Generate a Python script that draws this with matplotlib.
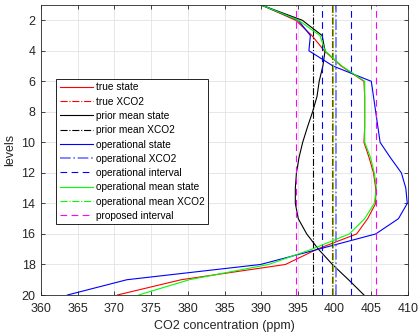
import numpy as np
import matplotlib
matplotlib.use("Agg")
import matplotlib.pyplot as plt

plt.rcParams['font.family'] = ['Liberation Sans', 'DejaVu Sans']

levels = np.arange(1, 21)

true_state = [390.0, 394.7, 396.9, 398.6, 400.9, 404.0, 404.1, 404.1, 404.1, 404.0,
              404.7, 405.3, 405.6, 405.6, 404.5, 403.0, 397.6, 393.3, 379.1, 370.4]
prior_state = [390.0, 395.6, 398.3, 398.7, 398.4, 397.9, 397.6, 397.0, 396.3, 395.65,
               395.15, 394.8, 394.65, 394.65, 395.05, 396.2, 397.8, 399.7, 401.9, 404.0]
op_state = [390.0, 395.05, 396.7, 396.5, 399.8, 405.0, 405.3, 405.6, 405.9, 406.2,
            407.6, 409.1, 409.7, 409.9, 408.7, 405.6, 397.8, 389.9, 371.7, 363.6]
op_mean_state = [390.0, 395.1, 398.0, 398.7, 401.0, 404.1, 404.1, 404.1, 404.1, 404.1,
                 404.9, 405.4, 405.7, 405.4, 404.1, 402.0, 396.9, 391.0, 380.2, 373.3]

true_xco2 = 399.6
prior_xco2 = 397.0
op_xco2 = 400.2
op_interval = [398.25, 402.2]
op_mean_xco2 = 399.75
proposed_interval = [394.7, 405.6]

fig = plt.figure(figsize=(4.2, 3.36), dpi=100)
ax = fig.add_axes([41 / 420, 1 - 295 / 336, 367 / 420, 290 / 336])

lw = 0.8
ax.plot(true_state, levels, color='r', lw=lw, label='true state')
ax.axvline(true_xco2, color='r', ls='-.', lw=lw, label='true XCO2')
ax.plot(prior_state, levels, color='k', lw=lw, label='prior mean state')
ax.axvline(prior_xco2, color='k', ls='-.', lw=lw, label='prior mean XCO2')
ax.plot(op_state, levels, color='b', lw=lw, label='operational state')
ax.axvline(op_xco2, color='#6f6fff', ls='-.', lw=1.2, label='operational XCO2')
for i, v in enumerate(op_interval):
    ax.axvline(v, color='b', ls=(0, (6, 4)), lw=lw,
               label='operational interval' if i == 0 else None)
ax.plot(op_mean_state, levels, color='#00ff00', lw=lw, label='operational mean state')
ax.axvline(op_mean_xco2, color='#00ff00', ls='-.', lw=lw, label='operational mean XCO2')
for i, v in enumerate(proposed_interval):
    ax.axvline(v, color='#ff00ff', ls=(0, (6, 4)), lw=lw,
               label='proposed interval' if i == 0 else None)

ax.set_xlim(360, 410)
ax.set_ylim(20, 1)
ax.set_xticks(np.arange(360, 411, 5))
ax.set_yticks(np.arange(2, 21, 2))
ax.grid(True, color='#e3e3e3', lw=0.6)
ax.set_axisbelow(True)
ax.tick_params(direction='in', top=True, right=True, length=3, width=0.6,
               labelsize=9, colors='#262626')
ax.tick_params(axis='x', pad=6)
ax.tick_params(axis='y', pad=4)
for s in ax.spines.values():
    s.set_color('#262626')
    s.set_linewidth(0.6)

ax.set_xlabel('CO2 concentration (ppm)', fontsize=9, color='#262626', labelpad=3)
ax.set_ylabel('levels', fontsize=9, color='#262626', labelpad=4)

leg = ax.legend(loc='upper left', bbox_to_anchor=(0.041, 0.745), borderaxespad=0,
                fontsize=7.3, fancybox=False, framealpha=1, edgecolor='k',
                handlelength=3.3, handletextpad=0.3, labelspacing=0.42,
                borderpad=0.35)
leg.get_frame().set_linewidth(0.6)

fig.savefig('out.png', dpi=100)
